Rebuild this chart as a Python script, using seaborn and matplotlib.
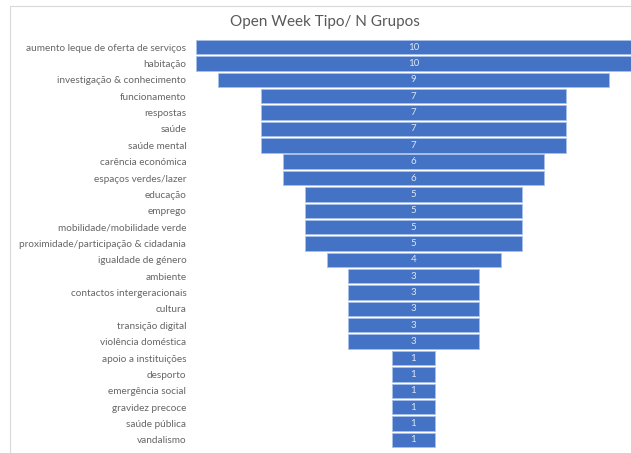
import pandas as pd
import matplotlib.pyplot as plt
import seaborn as sns
from matplotlib.patches import Rectangle

categorias = [
    "aumento leque de oferta de serviços", "habitação", "investigação & conhecimento",
    "funcionamento", "respostas", "saúde", "saúde mental", "carência económica",
    "espaços verdes/lazer", "educação", "emprego", "mobilidade/mobilidade verde",
    "proximidade/participação & cidadania", "igualdade de género", "ambiente",
    "contactos intergeracionais", "cultura", "transição digital", "violência doméstica",
    "apoio a instituições", "desporto", "emergência social", "gravidez precoce",
    "saúde pública", "vandalismo",
]
n_grupos = [10, 10, 9, 7, 7, 7, 7, 6, 6, 5, 5, 5, 5, 4, 3, 3, 3, 3, 3, 1, 1, 1, 1, 1, 1]

df = pd.DataFrame({"Tipo": categorias, "N": n_grupos})

sns.set_style("white")
plt.rcParams["font.family"] = ["Lato", "DejaVu Sans"]

fig = plt.figure(figsize=(6.31, 4.53), dpi=100)
ax = fig.add_axes([196 / 631, 0.011, 435 / 631, 0.903])

sns.barplot(data=df, x="N", y="Tipo", orient="h", color="#4472C4",
            saturation=1, width=0.88, edgecolor="#A9C0E8", linewidth=0.6, ax=ax)

# funnel: centre every bar on zero
for p in ax.patches:
    w = p.get_width()
    p.set_x(-w / 2)
    ax.text(0, p.get_y() + p.get_height() / 2, f"{int(w)}", ha="center", va="center",
            fontsize=7, color="#DCE6F5")

ax.set_xlim(-5, 5)
ax.set_ylim(24.5, -0.5)
ax.set_xlabel("")
ax.set_ylabel("")
ax.set_xticks([])
ax.tick_params(axis="y", length=0, pad=7, labelsize=7.2, labelcolor="#666666")
for s in ax.spines.values():
    s.set_visible(False)

fig.text(325 / 631, 1 - 22 / 453, "Open Week Tipo/ N Grupos", ha="center", va="center",
         fontsize=11, color="#595959")

fig.patches.append(Rectangle((10 / 631, -0.1), 1.2, 1.1 - 6 / 453,
                             transform=fig.transFigure, fill=False,
                             edgecolor="#D9D9D9", linewidth=0.8))

fig.savefig("out.png", dpi=100)
